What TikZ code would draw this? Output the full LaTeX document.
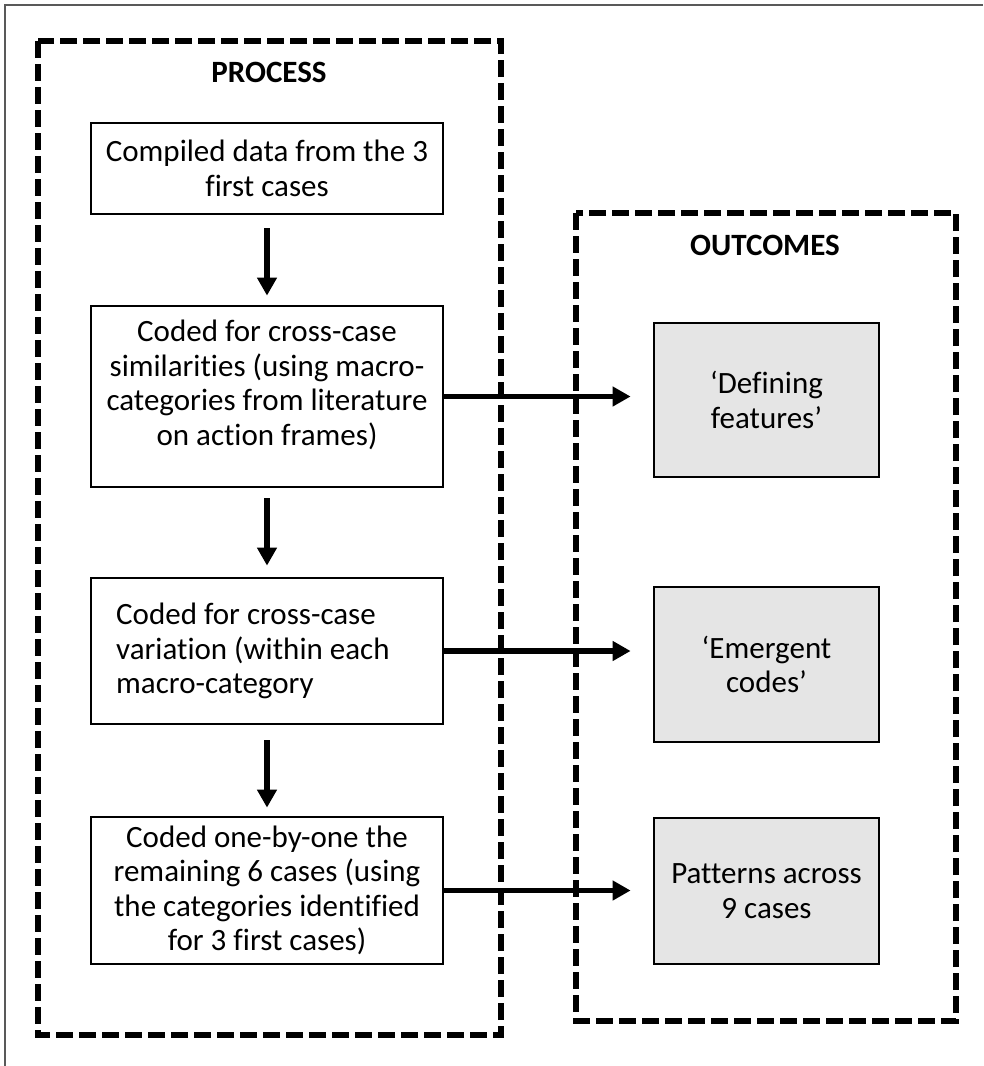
\documentclass[tikz,border=0pt]{standalone}
\usepackage{fontspec}
\setmainfont[Ligatures={NoCommon}]{Carlito}
\usetikzlibrary{arrows.meta}
\begin{document}
\begin{tikzpicture}[x=1pt,y=-1pt,
  txt/.style={font=\fontsize{31}{34.5}\selectfont},
  procbox/.style={draw=black, line width=2.8pt, fill=white, minimum width=352pt, inner sep=0pt, align=center, txt},
  outbox/.style={draw=black, line width=2.8pt, fill=black!10, minimum width=225pt, inner sep=0pt, align=center, txt},
  group/.style={draw=black, line width=5.5pt, dash pattern=on 17pt off 6pt},
  title/.style={font=\fontsize{31}{34.5}\selectfont\bfseries},
  flow/.style={line width=5.5pt, -{Triangle[length=18pt,width=19pt]}}
]
\useasboundingbox (0,0) rectangle (983,1066);
% outer frame (top and left edges only)
\draw[line width=1.6pt, black!65] (5,1066) -- (5,5) -- (983,5);
% group boxes
\draw[group] (38,41) rectangle (501,1035);
\draw[group] (576,213) rectangle (956,1021);
\node[title] (ptitle) at (269,72) {PROCESS};
\node[title] (otitle) at (765,245) {OUTCOMES};
% process boxes
\node[procbox, minimum height=91pt] (b1) at (267,168.5) {Compiled data from the 3\\first cases};
\node[procbox, minimum height=181pt] (b2) at (267,396.5) {};
\node[txt, align=center, inner sep=0pt] (b2t) at (267,385) {Coded for cross-case\\similarities (using macro-\\categories from literature\\on action frames)};
\node[procbox, minimum height=146pt] (b3) at (267,651) {};
\node[txt, align=left, anchor=west, inner sep=0pt] (b3t) at (116,651) {Coded for cross-case\\variation (within each\\macro-category};
\node[procbox, minimum height=147pt] (b4) at (267,890.5) {Coded one-by-one the\\remaining 6 cases (using\\the categories identified\\for 3 first cases)};
% outcome boxes
\node[outbox, minimum height=154pt] (oa) at (766.5,400) {‘Defining\\features’};
\node[outbox, minimum height=155pt] (ob) at (766.5,664.5) {‘Emergent\\codes’};
\node[outbox, minimum height=146pt] (oc) at (766.5,891) {Patterns across\\9 cases};
% vertical arrows
\draw[flow, shorten <=13pt, shorten >=9pt] (b1.south) -- (b2.north);
\draw[flow, shorten <=10pt, shorten >=11pt] (b2.south) -- (b3.north);
\draw[flow, shorten <=15pt, shorten >=8pt] (b3.south) -- (b4.north);
% horizontal arrows
\draw[flow, shorten >=22pt] (b2.east) -- (b2.east -| oa.west);
\draw[flow, shorten >=22pt] (b3.east) -- (b3.east -| ob.west);
\draw[flow, shorten >=22pt] (b4.east) -- (b4.east -| oc.west);
\end{tikzpicture}
\end{document}
